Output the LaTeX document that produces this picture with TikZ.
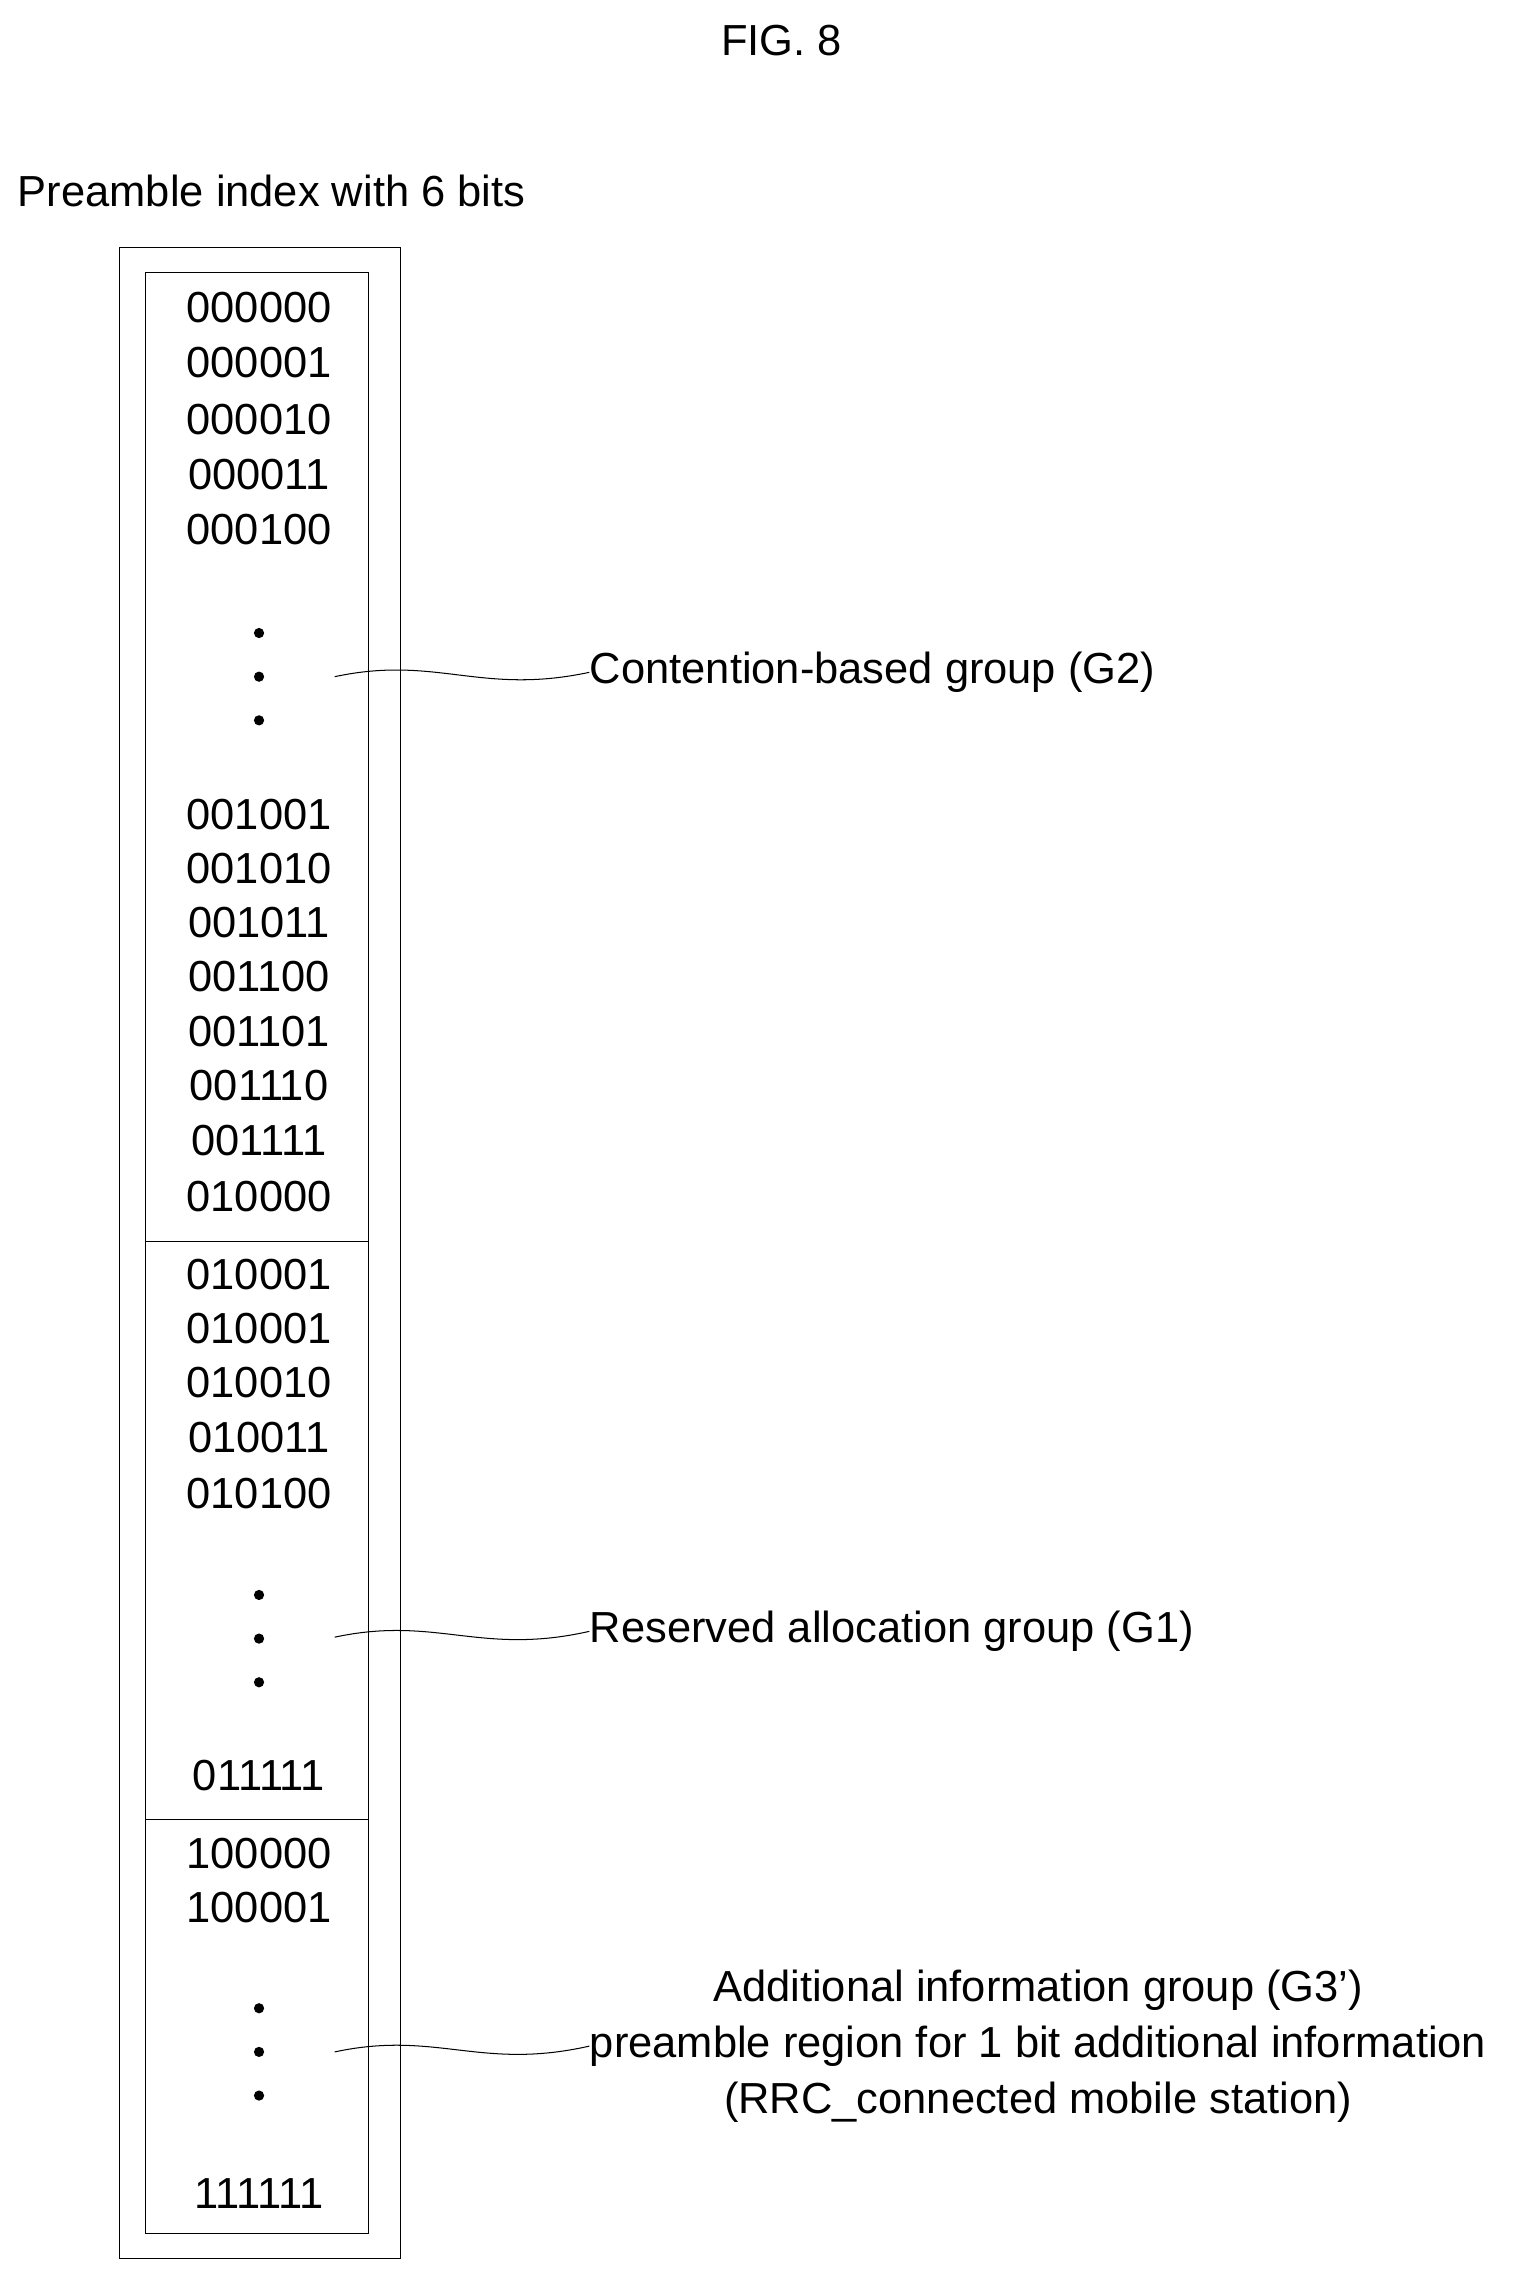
\documentclass[tikz,border=0pt]{standalone}
\usepackage{fontspec}
\setmainfont{Liberation Sans}
\usetikzlibrary{positioning}
\begin{document}
\begin{tikzpicture}[x=0.02cm,y=-0.02cm,font=\fontsize{17}{20}\selectfont,
    idx/.style={inner sep=0pt, anchor=center},
    dot/.style={circle, fill=black, inner sep=0pt, minimum size=4pt},
    lead/.style={thin},
    lbl/.style={anchor=west, inner sep=0pt, align=center}]
  \useasboundingbox (0,0) rectangle (1050,1564);

  \node (title) at (537,28) {FIG. 8};
  \node[anchor=west, inner sep=0pt] (head) at (12,131) {Preamble index with 6 bits};

  % boxes
  \draw (82,170) rectangle (275,1552);
  \draw (100,187) rectangle (253,1535);
  \draw (100,853) -- (253,853);
  \draw (100,1250) -- (253,1250);

  % index entries
  \foreach \v/\y in {000000/211,000001/249,000010/288,000011/326,000100/364,
      001001/560,001010/597,001011/634,001100/671,001101/709,001110/746,001111/784,010000/822,
      010001/876,010001/913,010010/950,010011/988,010100/1026,011111/1220,
      100000/1274,100001/1311,111111/1507}
    \node[idx] at (178,\y) {\v};

  % dots
  \foreach \y in {435,465,495,1096,1126,1156,1380,1410,1440}
    \node[dot] at (178,\y) {};

  % group labels
  \coordinate (g2) at (230,465);
  \coordinate (g1) at (230,1125);
  \coordinate (g3) at (230,1410);
  \node[lbl] (lg2) at (405,462) {Contention-based group (G2)};
  \node[lbl] (lg1) at (405,1121) {Reserved allocation group (G1)};
  \node[lbl] (lg3) at (405,1406) {Additional information group (G3')\\[2pt]
      preamble region for 1 bit additional information\\[2pt]
      (RRC\_connected mobile station)};

  \draw[lead] (g2) .. controls (300,450) and (330,478) .. (lg2.west);
  \draw[lead] (g1) .. controls (300,1110) and (330,1138) .. (lg1.west);
  \draw[lead] (g3) .. controls (300,1395) and (330,1423) .. (lg3.west);
\end{tikzpicture}
\end{document}
